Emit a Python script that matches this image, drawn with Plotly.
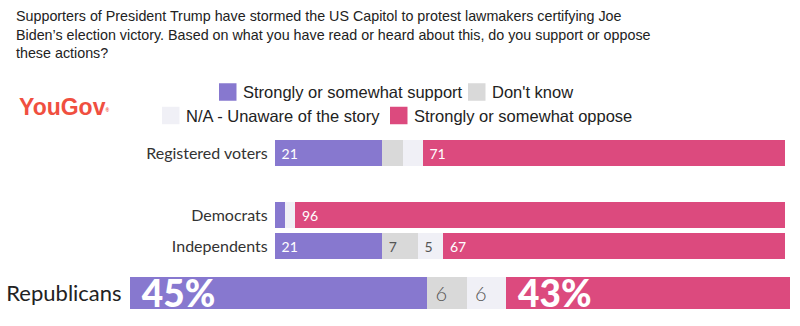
import plotly.graph_objects as go

# ---------------- data ----------------
groups = ["Registered voters", "Democrats", "Independents", "Republicans"]
support = [21, 2, 21, 45]
dont_know = [4, 0, 7, 6]
unaware = [4, 2, 5, 6]
oppose = [71, 96, 67, 43]

series_names = ["Strongly or somewhat support", "Don't know",
                "N/A - Unaware of the story", "Strongly or somewhat oppose"]
series_values = [support, dont_know, unaware, oppose]
series_colors = ["#8778cf", "#d9d9d9", "#f0f0f6", "#dc4a7e"]
label_colors = ["#ffffff", "#555555", "#555555", "#ffffff"]

title = ("Supporters of President Trump have stormed the US Capitol to protest lawmakers certifying Joe<br>"
         "Biden\u2019s election victory. Based on what you have read or heard about this, do you support or oppose<br>"
         "these actions?")

W, H = 800, 326
def px(x):
    return x / W
def py(y):
    return 1 - y / H

top_groups = groups[:3]
hl_group = groups[3]
spacer = " "
top_order = [top_groups[0], spacer, top_groups[1], top_groups[2]]

fig = go.Figure()
NB = "\u00a0"
for i, (name, vals, col, lc) in enumerate(zip(series_names, series_values, series_colors, label_colors)):
    top_vals = vals[:3]
    fig.add_trace(go.Bar(
        y=top_groups, x=top_vals, orientation="h", name=name,
        marker=dict(color=col, line=dict(width=0)),
        text=[(NB + str(v)) if v >= 5 else None for v in top_vals],
        textposition="inside", insidetextanchor="start", textangle=0,
        constraintext="none",
        textfont=dict(family="Lato, sans-serif", size=14, color=lc),
        xaxis="x", yaxis="y", showlegend=False, legendgroup=name,
        hoverinfo="x+name",
    ))
    v = vals[3]
    big = i in (0, 3)
    fig.add_trace(go.Bar(
        y=[hl_group], x=[v], orientation="h", name=name,
        marker=dict(color=col, line=dict(width=0)),
        text=[(NB + str(v) + "%") if big else (NB + str(v))],
        textposition="inside", insidetextanchor="start", textangle=0,
        constraintext="none",
        textfont=dict(family="Lato, sans-serif", size=37 if big else 20,
                      color=lc, weight=900 if big else 300),
        xaxis="x2", yaxis="y2", showlegend=False, legendgroup=name,
        hoverinfo="x+name",
    ))

fig.update_layout(
    width=W, height=H, margin=dict(l=0, r=0, t=0, b=0),
    paper_bgcolor="white", plot_bgcolor="white",
    barmode="stack", bargap=5 / 31,
    xaxis=dict(domain=[px(275), px(785)], range=[0, 100], visible=False, fixedrange=True),
    yaxis=dict(domain=[py(261.5), py(137.5)], type="category",
               categoryorder="array", categoryarray=top_order,
               tickvals=top_groups, ticktext=top_groups,
               range=[3.5, -0.5], showgrid=False, zeroline=False, showline=False,
               ticks="outside", ticklen=3, tickcolor="rgba(0,0,0,0)",
               tickfont=dict(family="Lato, sans-serif", size=16, color="#333333"),
               anchor="x"),
    xaxis2=dict(domain=[px(130), px(790)], range=[0, 100], visible=False,
                anchor="y2", fixedrange=True),
    yaxis2=dict(domain=[py(312.1), py(273.9)], type="category",
                showgrid=False, zeroline=False, showline=False,
                ticks="outside", ticklen=3, tickcolor="rgba(0,0,0,0)",
                tickfont=dict(family="Lato, sans-serif", size=22, color="#222222"),
                anchor="x2"),
    showlegend=False,
)

# title
fig.add_annotation(text=title, x=px(14), y=py(6), xref="paper", yref="paper",
                   xanchor="left", yanchor="top", align="left", showarrow=False,
                   font=dict(family="Liberation Sans, Arial, sans-serif",
                             size=14.3, color="#222222"))

# logo
fig.add_annotation(text="YouGov<span style='font-size:7px'><sup>®</sup></span>",
                   x=px(17), y=py(107), xref="paper", yref="paper",
                   xanchor="left", yanchor="middle", showarrow=False,
                   font=dict(family="Liberation Sans, Arial, sans-serif", size=23,
                             color="#f04f40", weight="bold"))

# legend (manual, two centred rows)
legend_items = [
    (0, 219, 92), (1, 468, 92),
    (2, 162, 115.5), (3, 390, 115.5),
]
for idx, x0, yc in legend_items:
    fig.add_shape(type="rect", xref="paper", yref="paper",
                  x0=px(x0), x1=px(x0 + 17.5), y0=py(yc + 8.75), y1=py(yc - 8.75),
                  fillcolor=series_colors[idx], line=dict(width=0))
    fig.add_annotation(text=series_names[idx], x=px(x0 + 22), y=py(yc), xref="paper", yref="paper",
                       xanchor="left", yanchor="middle", showarrow=False,
                       font=dict(family="Liberation Sans, Arial, sans-serif", size=16.5, color="#222222"))

fig.write_html("out.html")
